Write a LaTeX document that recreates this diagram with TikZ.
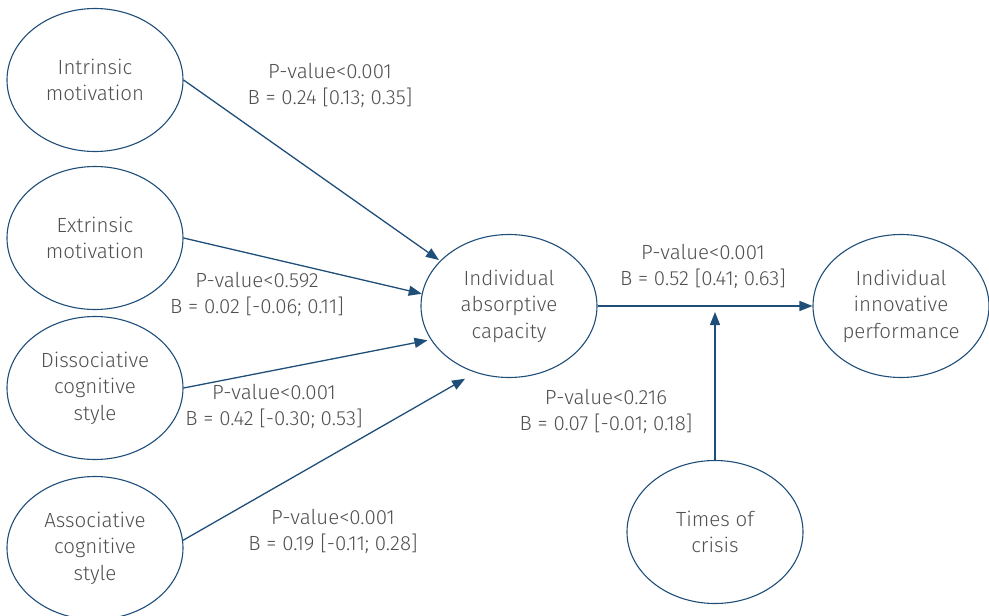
\documentclass[tikz,border=0pt]{standalone}
\usepackage{fontspec}
\setmainfont{Fira Sans Light}
\usetikzlibrary{shapes.geometric,arrows.meta}
\definecolor{edgeblue}{HTML}{1F4E79}
\definecolor{txtgray}{HTML}{505050}
\begin{document}
\begin{tikzpicture}[x=1pt,y=-1pt,
  lat/.style={ellipse,draw=edgeblue,line width=1.1pt,minimum width=176pt,minimum height=143pt,inner sep=0pt,align=center,text=txtgray,font=\fontsize{20.5}{26.5}\selectfont},
  lbl/.style={align=center,text=txtgray,font=\fontsize{20.5}{26}\selectfont,inner sep=0pt},
  arr/.style={draw=edgeblue,line width=1.3pt,-{Triangle[length=13pt,width=10pt]}}]
\useasboundingbox (0,0) rectangle (989,616);
\node[lat] (intr) at (95,80) {Intrinsic\\motivation};
\node[lat] (extr) at (95,238) {Extrinsic\\motivation};
\node[lat] (diss) at (95,388) {Dissociative\\cognitive\\style};
\node[lat] (asso) at (95,548) {Associative\\cognitive\\style};
\node[lat] (abs) at (509,306) {Individual\\absorptive\\capacity};
\node[lat] (inn) at (901,306) {Individual\\innovative\\performance};
\node[lat] (cris) at (715,532) {Times of\\crisis};
\draw[arr] (intr.east) -- ([shift={(-4pt,-2pt)}]abs.144);
\draw[arr] (extr.east) -- (abs.172);
\draw[arr] (diss.east) -- ([shift={(-3pt,-1pt)}]abs.203);
\draw[arr] (asso.5) -- ([shift={(-5pt,-8pt)}]abs.239);
\draw[arr] (abs.east) -- (inn.west);
\draw[arr] (cris.north) -- ([yshift=-6pt]cris.north |- abs.east);
\node[lbl] (l1) at (330,85) {P-value<0.001\\B = 0.24 [0.13; 0.35]};
\node[lbl] (l2) at (257,294) {P-value<0.592\\B = 0.02 [-0.06; 0.11]};
\node[lbl] (l3) at (274,406) {P-value<0.001\\B = 0.42 [-0.30; 0.53]};
\node[lbl] (l4) at (333,531) {P-value<0.001\\B = 0.19 [-0.11; 0.28]};
\node[lbl] (l5) at (703,266) {P-value<0.001\\B = 0.52 [0.41; 0.63]};
\node[lbl] (l6) at (606,411) {P-value<0.216\\B = 0.07 [-0.01; 0.18]};
\end{tikzpicture}
\end{document}
